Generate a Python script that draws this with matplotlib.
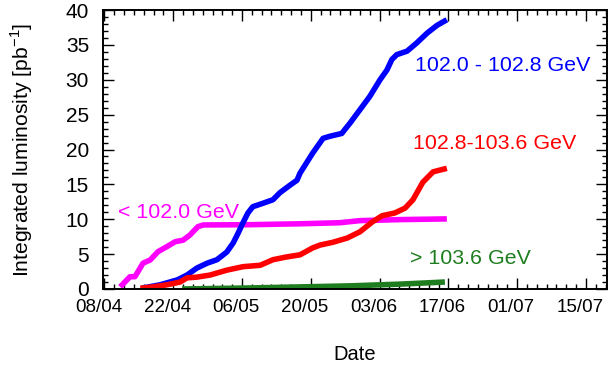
import matplotlib
matplotlib.use("Agg")
import matplotlib.pyplot as plt
from matplotlib.ticker import MultipleLocator, FixedLocator
from matplotlib.transforms import ScaledTranslation

plt.rcParams['font.family'] = ['Liberation Sans', 'DejaVu Sans']

# x values: days since 08/04
tick_days = [0, 14, 28, 42, 56, 70, 84, 98]
tick_labels = ["08/04", "22/04", "06/05", "20/05", "03/06", "17/06", "01/07", "15/07"]

mag_d = [3.2, 5.2, 6.2, 7.85, 9.3, 10.9, 12.7, 14.4, 16.0, 17.4, 19.0, 20.1, 29.6, 39.8, 47.9, 52.0, 60.2, 69.7]
mag_l = [0.3, 1.76, 1.76, 3.7, 4.16, 5.35, 6.07, 6.78, 7.0, 7.74, 8.93, 9.18, 9.22, 9.35, 9.5, 9.8, 9.95, 10.05]

blue_d = [7.5, 11.3, 14.8, 16.8, 18.8, 20.9, 22.9, 24.9, 26.2, 27.2, 28.2, 29.2, 30.2, 32.3, 34.3, 35.7, 37.8,
          39.2, 39.8, 42.4, 44.5, 45.9, 48.3, 50.0, 52.0, 54.0, 56.1, 57.5, 58.5, 59.5, 61.6, 63.6, 65.7, 67.7, 69.7]
blue_l = [0.1, 0.6, 1.3, 2.0, 3.0, 3.7, 4.2, 5.3, 6.6, 8.0, 9.5, 10.9, 11.8, 12.3, 12.8, 13.8, 14.9,
          15.6, 16.6, 19.5, 21.6, 21.9, 22.3, 23.8, 25.7, 27.6, 30.0, 31.4, 32.9, 33.6, 34.1, 35.3, 36.7, 37.8, 38.6]

red_d = [7.3, 9.9, 12.7, 15.4, 16.8, 18.8, 21.5, 24.9, 28.2, 31.7, 34.3, 37.1, 39.8, 42.4, 43.9, 46.5, 49.4,
         52.0, 54.5, 56.5, 59.1, 61.2, 62.8, 64.8, 66.9, 69.7]
red_l = [0.1, 0.3, 0.6, 1.0, 1.6, 1.7, 2.0, 2.7, 3.2, 3.4, 4.2, 4.6, 4.9, 5.9, 6.3, 6.7, 7.3,
         8.2, 9.6, 10.5, 10.9, 11.6, 12.8, 15.3, 16.8, 17.3]

green_d = [15.8, 29.6, 39.8, 50.0, 60.2, 69.3]
green_l = [0.0, 0.15, 0.3, 0.45, 0.7, 1.0]

fig = plt.figure(figsize=(6.1, 3.67), dpi=100)
ax = fig.add_axes([103/610, (367-289)/367, (607-103)/610, (289-10)/367])

lw = 4.0
ax.plot(mag_d, mag_l, color='#ff00ff', lw=lw, solid_capstyle='butt')
ax.plot(blue_d, blue_l, color='#0000ff', lw=lw, solid_capstyle='butt')
ax.plot(red_d, red_l, color='#ff0000', lw=lw, solid_capstyle='butt')
ax.plot(green_d, green_l, color='#1e7d1e', lw=lw, solid_capstyle='butt')

fs = 14.5
afs = 15.4
ax.text(63.2, 32.1, "102.0 - 102.8 GeV", color='#0000ff', fontsize=afs, va='center', ha='left')
ax.text(62.8, 20.9, "102.8-103.6 GeV", color='#ff0000', fontsize=afs, va='center', ha='left')
ax.text(2.8, 10.9, "< 102.0 GeV", color='#ff00ff', fontsize=afs, va='center', ha='left')
ax.text(62.2, 4.4, "> 103.6 GeV", color='#1e7d1e', fontsize=afs, va='center', ha='left')

ax.set_xlim(-0.3, 102.3)
ax.set_ylim(0, 40)
ax.xaxis.set_major_locator(FixedLocator(tick_days))
ax.set_xticklabels(tick_labels)
ax.xaxis.set_minor_locator(MultipleLocator(2))
ax.yaxis.set_major_locator(MultipleLocator(5))
ax.yaxis.set_minor_locator(MultipleLocator(1))

ax.tick_params(which='both', direction='in', top=True, right=True, width=1.0)
ax.tick_params(axis='y', labelsize=15)
ax.tick_params(axis='x', labelsize=13.5)
ax.tick_params(which='major', length=8)
ax.tick_params(which='minor', length=3.5)
ax.tick_params(axis='x', which='major', pad=7)
ax.tick_params(axis='y', which='major', pad=10)
for s in ax.spines.values():
    s.set_linewidth(1.4)

off = ScaledTranslation(-6/100, 0, fig.dpi_scale_trans)
for lab in ax.get_xticklabels():
    lab.set_transform(lab.get_transform() + off)

ax.set_xlabel("Date", fontsize=fs, labelpad=21)
ax.set_ylabel("Integrated luminosity [pb$^{\\mathregular{-1}}$]", fontsize=15.2, labelpad=22)

fig.savefig("out.png", dpi=100)
